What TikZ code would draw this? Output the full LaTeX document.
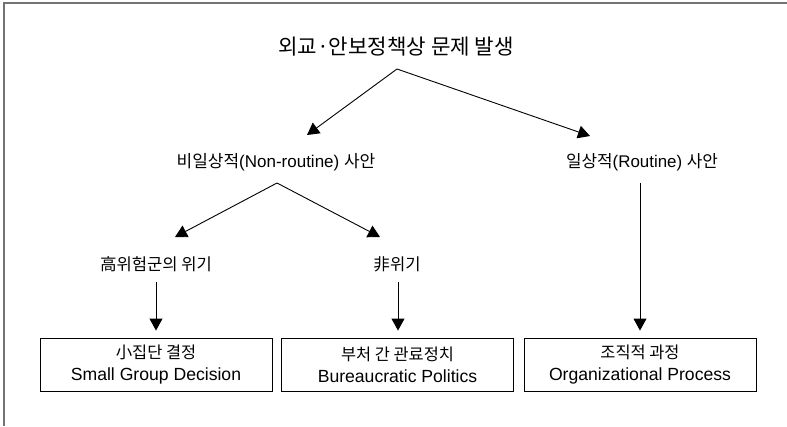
\documentclass[tikz,border=0pt]{standalone}
\usepackage{fontspec}
\setmainfont{Liberation Sans}
\newfontfamily\kr{Noto Sans CJK KR}
\usetikzlibrary{arrows.meta}
\begin{document}
\begin{tikzpicture}[x=1pt,y=-1pt,
  lbl/.style={inner sep=0pt, anchor=center},
  arr/.style={line width=0.9pt, -{Triangle[length=12pt,width=13pt]}},
  box/.style={draw, line width=0.9pt, minimum width=232pt, minimum height=53pt,
    align=center, inner sep=0pt, font=\fontsize{17.6}{22}\selectfont}]
\useasboundingbox (0,0) rectangle (787,426);
\draw[gray!90!black, line width=1.2pt] (4,426) -- (4,3) -- (787,3);

% texts
\node[lbl, font=\kr\fontsize{21.2}{25}\selectfont] (top) at (396,47) {외교·안보정책상 문제 발생};
\node[lbl, font=\fontsize{17}{20}\selectfont] (nonr) at (276,162) {{\kr 비일상적}(Non-routine) {\kr 사안}};
\node[lbl, font=\fontsize{16.9}{20}\selectfont] (rout) at (642,162) {{\kr 일상적}(Routine) {\kr 사안}};
\node[lbl, font=\kr\fontsize{16.6}{20}\selectfont] (crisis) at (156,264) {高위험군의 위기};
\node[lbl, font=\kr\fontsize{16.6}{20}\selectfont] (noncr) at (397,264) {非위기};

% boxes
\node[box] (b1) at (156,364.5) {{\kr\fontsize{16.4}{22}\selectfont 小집단 결정}\\Small Group Decision};
\node[box] (b2) at (397.5,364.5) {{\kr\fontsize{16.4}{22}\selectfont 부처 간 관료정치}\\Bureaucratic Politics};
\node[box] (b3) at (640,364.5) {{\kr\fontsize{16.4}{22}\selectfont 조직적 과정}\\Organizational Process};

% fork coordinates
\coordinate (a1) at (397,69);
\coordinate (t1) at (307,135);
\coordinate (t2) at (590,136);
\coordinate (a2) at (277,183);
\coordinate (t3) at (175,237);
\coordinate (t4) at (380,237);
\coordinate (s1) at (156,282);
\coordinate (s2) at (398,282);
\coordinate (s3) at (640,183);

\draw[arr] (a1) -- (t1);
\draw[arr] (a1) -- (t2);
\draw[arr] (a2) -- (t3);
\draw[arr] (a2) -- (t4);
\draw[arr, shorten >=7pt] (s1) -- (s1 |- b1.north);
\draw[arr, shorten >=7pt] (s2) -- (s2 |- b2.north);
\draw[arr, shorten >=7pt] (s3) -- (s3 |- b3.north);
\end{tikzpicture}
\end{document}
